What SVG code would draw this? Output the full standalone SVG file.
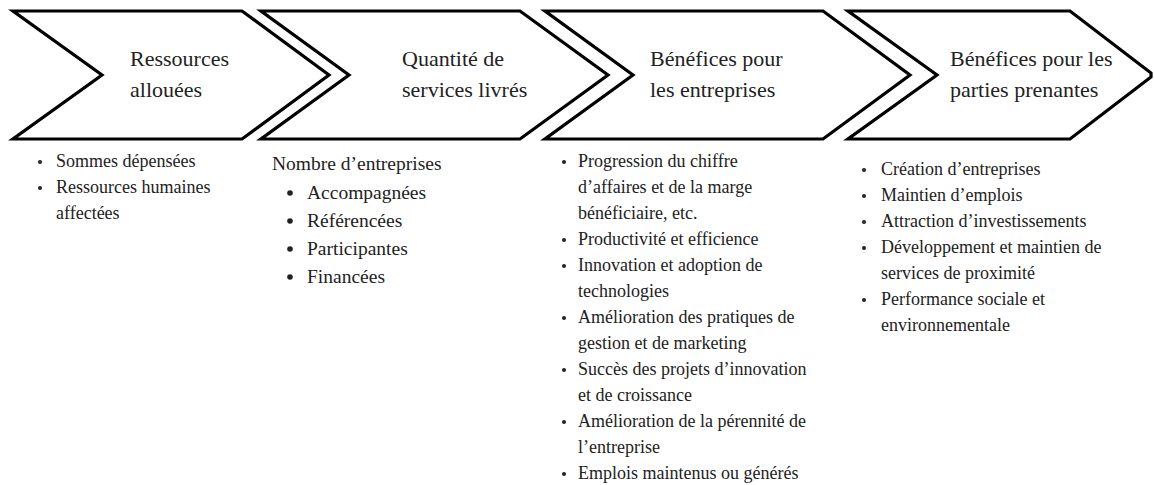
<svg xmlns="http://www.w3.org/2000/svg" width="1154" height="485" viewBox="0 0 1154 485">
<style>
.chev{fill:#fff;stroke:#000;stroke-width:3.2;stroke-linejoin:miter}
.t{font-family:"Liberation Serif","Times New Roman",serif;font-size:22px;fill:#222}
.b{font-family:"Liberation Serif","Times New Roman",serif;font-size:18px;fill:#222}
.b2{font-family:"Liberation Serif","Times New Roman",serif;font-size:19.5px;fill:#222}
.d{fill:#222}
</style>
<rect width="1154" height="485" fill="#fff"/>
<g id="node1">
<path class="chev" d="M13,11 L242,11 L329,75 L242,139 L13,139 L102,75 Z"/>
<text class="t" x="130" y="66">Ressources</text>
<text class="t" x="130" y="97">allouées</text>
</g>
<g id="node2">
<path class="chev" d="M261,11 L520,11 L608,75 L520,139 L261,139 L349,75 Z"/>
<text class="t" x="402" y="66">Quantité de</text>
<text class="t" x="402" y="97">services livrés</text>
</g>
<g id="node3">
<path class="chev" d="M545,11 L823,11 L910,75 L823,139 L545,139 L633,75 Z"/>
<text class="t" x="650" y="66">Bénéfices pour</text>
<text class="t" x="650" y="97">les entreprises</text>
</g>
<g id="node4">
<path class="chev" d="M848,11 L1070,11 L1151,73 L1151,77 L1070,139 L848,139 L937,75 Z"/>
<text class="t" x="950" y="66">Bénéfices pour les</text>
<text class="t" x="950" y="97">parties prenantes</text>
</g>
<g id="list1">
<circle class="d" cx="40" cy="162" r="2"/>
<text class="b" x="56" y="167">Sommes dépensées</text>
<circle class="d" cx="40" cy="188" r="2"/>
<text class="b" x="56" y="193">Ressources humaines</text>
<text class="b" x="56" y="219">affectées</text>
</g>
<g id="list2">
<text class="b2" x="272" y="170">Nombre d’entreprises</text>
<circle class="d" cx="290" cy="193" r="2.8"/>
<text class="b2" x="307" y="199">Accompagnées</text>
<circle class="d" cx="290" cy="221" r="2.8"/>
<text class="b2" x="307" y="227">Référencées</text>
<circle class="d" cx="290" cy="249" r="2.8"/>
<text class="b2" x="307" y="255">Participantes</text>
<circle class="d" cx="290" cy="277" r="2.8"/>
<text class="b2" x="307" y="283">Financées</text>
</g>
<g id="list3">
<circle class="d" cx="564" cy="162" r="2"/>
<text class="b" x="578" y="167">Progression du chiffre</text>
<text class="b" x="578" y="193">d’affaires et de la marge</text>
<text class="b" x="578" y="219">bénéficiaire, etc.</text>
<circle class="d" cx="564" cy="240" r="2"/>
<text class="b" x="578" y="245">Productivité et efficience</text>
<circle class="d" cx="564" cy="266" r="2"/>
<text class="b" x="578" y="271">Innovation et adoption de</text>
<text class="b" x="578" y="297">technologies</text>
<circle class="d" cx="564" cy="318" r="2"/>
<text class="b" x="578" y="323">Amélioration des pratiques de</text>
<text class="b" x="578" y="349">gestion et de marketing</text>
<circle class="d" cx="564" cy="370" r="2"/>
<text class="b" x="578" y="375">Succès des projets d’innovation</text>
<text class="b" x="578" y="401">et de croissance</text>
<circle class="d" cx="564" cy="422" r="2"/>
<text class="b" x="578" y="427">Amélioration de la pérennité de</text>
<text class="b" x="578" y="453">l’entreprise</text>
<circle class="d" cx="564" cy="474" r="2"/>
<text class="b" x="578" y="479">Emplois maintenus ou générés</text>
</g>
<g id="list4">
<circle class="d" cx="864" cy="170" r="2"/>
<text class="b" x="881" y="175">Création d’entreprises</text>
<circle class="d" cx="864" cy="196" r="2"/>
<text class="b" x="881" y="201">Maintien d’emplois</text>
<circle class="d" cx="864" cy="222" r="2"/>
<text class="b" x="881" y="227">Attraction d’investissements</text>
<circle class="d" cx="864" cy="248" r="2"/>
<text class="b" x="881" y="253">Développement et maintien de</text>
<text class="b" x="881" y="279">services de proximité</text>
<circle class="d" cx="864" cy="300" r="2"/>
<text class="b" x="881" y="305">Performance sociale et</text>
<text class="b" x="881" y="331">environnementale</text>
</g>
</svg>
